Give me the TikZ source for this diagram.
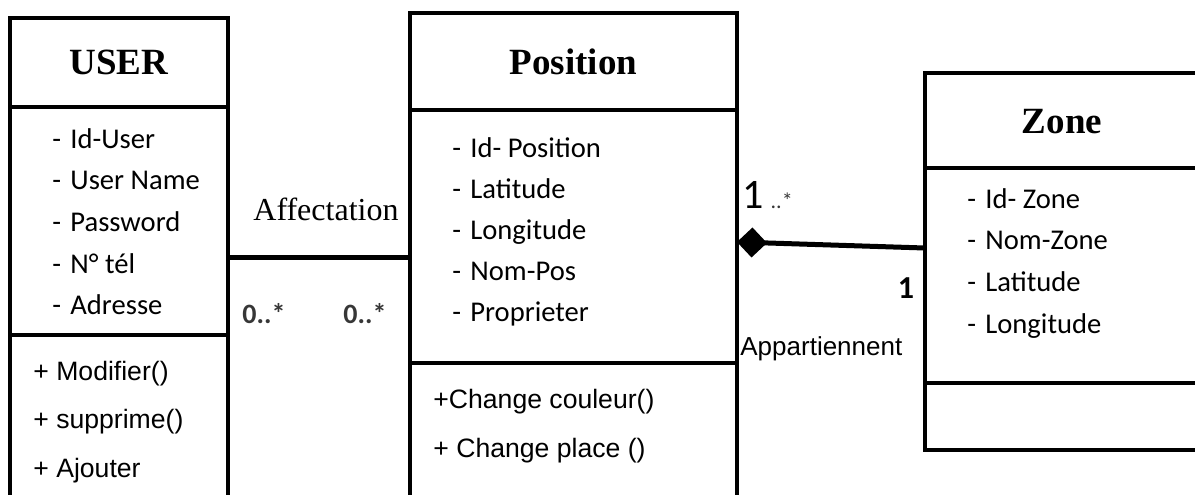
\documentclass[tikz,border=0pt]{standalone}
\usepackage{fontspec}
\setmainfont{Liberation Serif}
\newfontfamily\attrfont{Carlito}
\newfontfamily\opfont{Liberation Sans}
\definecolor{multgray}{RGB}{55,55,55}
\usetikzlibrary{arrows.meta,calc}

\begin{document}
\begin{tikzpicture}[x=0.5pt, y=-0.5pt,
    classpart/.style={draw, line width=2pt, anchor=north west, inner sep=0pt, outer sep=0pt, minimum width=#1},
    classtitle/.style={font=\bfseries\fontsize{18.5pt}{20pt}\selectfont},
    attrtext/.style={anchor=base west, inner sep=0pt, font=\attrfont\fontsize{14.3pt}{17pt}\selectfont},
    optext/.style={anchor=base west, inner sep=0pt, font=\opfont\fontsize{13.3pt}{16pt}\selectfont},
    mult/.style={anchor=base west, inner sep=0pt, text=multgray, font=\attrfont\bfseries\fontsize{14pt}{16pt}\selectfont},
    assoc/.style={line width=2.5pt}]
  \useasboundingbox (0,0) rectangle (1195,494);
  \clip (0,0) rectangle (1195,494);

  \node[classpart=109pt, minimum height=44.5pt, classtitle] (usertitle) at (10,18) {USER};
  \node[classpart=109pt, minimum height=114pt] (userbody) at (usertitle.south west) {};
  \node[classpart=109pt, minimum height=92.5pt] (userops) at (userbody.south west) {};
  \foreach \t [count=\i] in {Id-User, User Name, Password, N° tél, Adresse}
    \node[attrtext] (useritem\i) at (52,{148+41.7*(\i-1)}) {\makebox[9pt][l]{-}\t};
  \foreach \t [count=\i] in {+ Modifier(), + supprime(), + Ajouter}
    \node[optext] (userop\i) at (33,{380+48.5*(\i-1)}) {\t};

  \node[classpart=163.5pt, minimum height=48.5pt, classtitle] (postitle) at (410,13) {Position};
  \node[classpart=163.5pt, minimum height=126.5pt] (posbody) at (postitle.south west) {};
  \node[classpart=163.5pt, minimum height=78.5pt] (posops) at (posbody.south west) {};
  \foreach \t [count=\i] in {Id- Position, Latitude, Longitude, Nom-Pos, Proprieter}
    \node[attrtext] (positem\i) at (452,{157+41*(\i-1)}) {\makebox[9pt][l]{-}\t};
  \node[optext] (posop1) at (433,408) {+Change couleur()};
  \node[optext] (posop2) at (433,457) {+ Change place ()};

  \node[classpart=150pt, minimum height=47.5pt] (zonetitle) at (925,73) {};
  \node[classtitle] (zonename) at (1062,122) {Zone};
  \node[classpart=150pt, minimum height=107.5pt] (zonebody) at (zonetitle.south west) {};
  \node[classpart=150pt, minimum height=33.5pt] (zoneops) at (zonebody.south west) {};
  \foreach \t [count=\i] in {Id- Zone, Nom-Zone, Latitude, Longitude}
    \node[attrtext] (zoneitem\i) at (967,{208+41.7*(\i-1)}) {\makebox[9pt][l]{-}\t};

  \coordinate (affy) at (0,257);
  \coordinate (diay) at (0,242);
  \coordinate (zoney) at (0,248);
  \draw[assoc] (userbody.east |- affy) -- (posbody.west |- affy);
  \draw[assoc, {Diamond[length=15pt,width=15pt]}-] (posbody.east |- diay) -- (zonebody.west |- zoney);

  \node[anchor=base west, inner sep=0pt, font=\fontsize{16pt}{18pt}\selectfont] (afflabel) at (253,220) {Affectation};
  \node[mult] (multuser) at (242,323) {0..*};
  \node[mult] (multpos) at (343,323) {0..*};
  \node[anchor=base west, inner sep=0pt, font=\attrfont\fontsize{21pt}{22pt}\selectfont] (multzonepos) at (742,208)
    {1\,{\fontsize{11pt}{12pt}\selectfont\color{multgray}..*}};
  \node[anchor=base, inner sep=0pt, font=\attrfont\bfseries\fontsize{16pt}{18pt}\selectfont] (multzone) at (906,298) {1};
  \node[anchor=base west, inner sep=0pt, font=\opfont\fontsize{13pt}{15pt}\selectfont] (applabel) at (740,355) {Appartiennent};
\end{tikzpicture}
\end{document}
